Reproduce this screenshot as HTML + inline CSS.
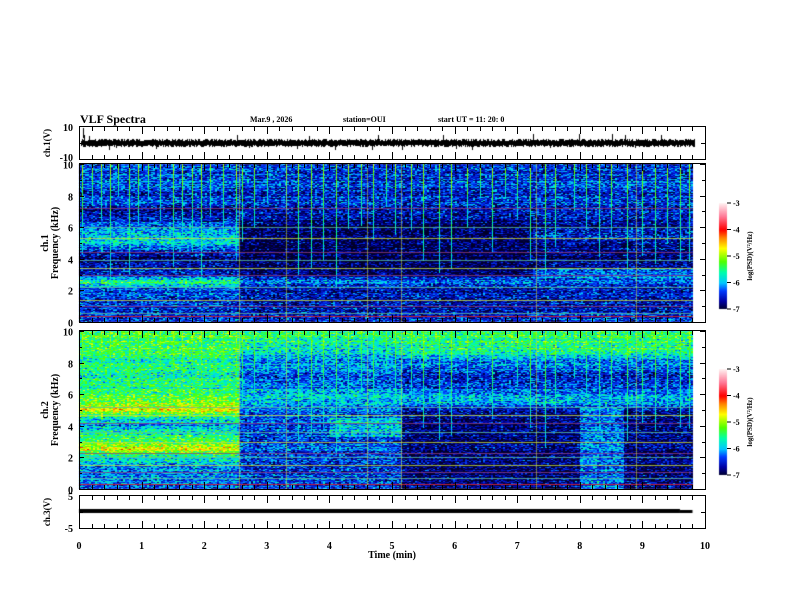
<!DOCTYPE html>
<html><head><meta charset="utf-8"><style>
html,body{margin:0;padding:0;background:#fff;width:792px;height:612px;overflow:hidden}
#wrap{position:relative;width:792px;height:612px}
canvas{position:absolute;left:0;top:0}
svg{position:absolute;left:0;top:0}
text{font-family:"Liberation Serif",serif;font-weight:bold;fill:#000}
</style></head><body>
<div id="wrap">
<canvas id="cv" width="792" height="612"></canvas>
<svg id="sv" width="792" height="612"></svg>
</div>
<script>
// ---- data ----
const freqs = [0,0.5,1,1.5,2,2.5,3,3.5,4,4.5,5,5.5,6,6.5,7,7.5,8,8.5,9,9.5,10];
const ch1SegA = [-6.4,-6.5,-6.4,-6.3,-6.4,-5.5,-6.5,-6.6,-6.8,-6.5,-5.8,-5.9,-6.2,-6.5,-6.8,-6.4,-6.5,-6.4,-6.3,-6.3,-6.3];
const ch1SegB = [-6.5,-6.6,-6.6,-6.5,-6.7,-6.2,-6.8,-6.9,-6.9,-7.0,-6.9,-6.8,-7.0,-6.7,-6.6,-6.5,-6.5,-6.5,-6.4,-6.4,-6.4];
const ch1SegC = [-6.4,-6.5,-6.6,-6.5,-6.6,-6.3,-6.5,-6.7,-6.8,-6.8,-6.7,-6.4,-6.7,-6.6,-6.5,-6.5,-6.5,-6.4,-6.4,-6.4,-6.4];
const ch2SegA = [-6.3,-6.2,-6.1,-6.0,-5.7,-4.8,-5.3,-5.6,-6.0,-5.7,-4.7,-5.1,-5.4,-5.5,-5.6,-5.6,-5.6,-5.5,-5.4,-5.3,-5.3];
const ch2SegB = [-6.4,-6.4,-6.4,-6.4,-6.4,-6.3,-6.4,-6.4,-6.3,-6.3,-6.2,-5.9,-5.9,-6.2,-6.3,-6.2,-6.1,-6.0,-5.7,-5.5,-5.4];
const ch2SegC = [-6.8,-6.8,-6.8,-6.8,-6.8,-6.8,-6.8,-6.8,-6.8,-6.8,-6.7,-5.9,-6.1,-6.4,-6.5,-6.4,-6.2,-5.8,-5.5,-5.4,-5.4];
const ch1Breaks = [2.55, 7.25];
const ch2Breaks = [2.55, 5.15];
const spikeTimes = [0.05,0.2,0.35,0.5,0.62,0.8,0.95,1.1,1.3,1.5,1.65,1.8,1.95,2.1,2.3,2.5,2.6,2.8,3.0,3.3,3.5,3.7,3.9,4.1,4.3,4.5,4.7,4.9,5.05,5.3,5.5,5.75,5.95,6.2,6.4,6.6,6.8,7.0,7.2,7.45,7.6,7.9,8.1,8.3,8.5,8.75,9.0,9.2,9.4,9.6,9.75];
const lineFreqs1 = [0.4,0.6,1.0,1.4,2.2,3.0,3.4,3.9,4.4,5.3,6.0,7.2];
const lineFreqs2 = [0.3,0.7,1.1,1.5,2.0,2.3,3.0,3.6,4.2,4.7,5.2];
const vLineTimes = [2.55,3.3,4.6,5.15,7.3,8.9];
const endTime = 9.8;
const xTicks = [0,1,2,3,4,5,6,7,8,9,10];
const cbTicks = [-3,-4,-5,-6,-7];

// ---- layout ----
const X0=79, X1=705;
const xs = t => X0 + (X1-X0)*t/10;
const P = {
  w1:{top:127,bot:159},
  s1:{top:164,bot:322},
  s2:{top:331,bot:489},
  w3:{top:496,bot:528}
};
const cv=document.getElementById('cv'), ctx=cv.getContext('2d');
const stops=[[-7,0,0,40],[-6.7,0,0,160],[-6.3,0,60,255],[-6.0,0,200,255],[-5.6,0,255,170],[-5.2,80,255,0],[-4.7,255,255,0],[-4.3,255,130,0],[-4.0,255,0,0],[-3.5,255,120,150],[-3,255,240,240]];
function cmap(v){
  if(v<=stops[0][0]) return stops[0].slice(1);
  for(let i=1;i<stops.length;i++){ if(v<=stops[i][0]){const a=stops[i-1],b=stops[i],f=(v-a[0])/(b[0]-a[0]);return [a[1]+(b[1]-a[1])*f,a[2]+(b[2]-a[2])*f,a[3]+(b[3]-a[3])*f];}}
  return stops[stops.length-1].slice(1);
}
function hash(a,b){let h=(a*374761393+b*668265263)|0;h=(h^(h>>>13))*1274126177|0;h=h^(h>>>16);return ((h>>>0)%10000)/10000;}
function prof(arr,f){const i=Math.min(19,Math.floor(f/0.5));const fr=(f-freqs[i])/0.5;return arr[i]*(1-fr)+arr[i+1]*fr;}
function drawSpec(pan,segs,breaks,lines,ch){
  const H=pan.bot-pan.top, xe=xs(endTime);
  const img=ctx.createImageData(Math.ceil(xe-X0),H);
  const W=img.width;
  const spikeCols=spikeTimes.map(t=>Math.round(xs(t)-X0));
  for(let px=0;px<W;px++){
    const t=(px)/(X1-X0)*10;
    const seg=t<breaks[0]?segs[0]:(t<breaks[1]?segs[1]:segs[2]);
    const si=spikeCols.indexOf(px);
    const spk=si>=0;
    const reach=spk?(2+hash(si,77)*6):10; // spike extends down to this freq
    const col=Math.floor(px/2);
    for(let py=0;py<H;py++){
      const f=10*(1-(py+0.5)/H);
      let v=prof(seg,f);
      const n=(hash(col,py)+hash(col+7,py*3)-1)*0.75;
      v+=n+(hash(0,py)-0.5)*0.4;
      if(ch===2&&t>4.0&&t<5.15&&f>3.3&&f<4.5) v+=0.45;
      if(ch===2&&t>8.0&&t<8.7&&f<5.2) v+=0.6;
      if(ch===1&&t>7.25&&f>2.8&&f<3.4) v+=0.3;
      if(spk&&f>reach){const s=-5.9+(f-reach)/(10-reach)*0.9+(hash(px,py)-0.5)*0.5; v=Math.max(v,s);}
      const c=cmap(v); const k=(py*W+px)*4;
      img.data[k]=c[0];img.data[k+1]=c[1];img.data[k+2]=c[2];img.data[k+3]=255;
    }
  }
  ctx.putImageData(img,X0,pan.top);
  lines.forEach((lf,i)=>{
    const y=pan.bot-lf/10*H;
    ctx.fillStyle=lf<0.5?'#c0203a':(i%3===0?'rgba(200,220,60,0.8)':(i%3===1?'rgba(90,190,160,0.8)':'rgba(140,60,130,0.8)'));
    ctx.fillRect(X0, Math.round(y), xe-X0, 1);
  });
  ctx.fillStyle='rgba(200,220,60,0.55)';
  vLineTimes.forEach(t=>ctx.fillRect(Math.round(xs(t)),pan.top,1,H));
}
drawSpec(P.s1,[ch1SegA,ch1SegB,ch1SegC],ch1Breaks,lineFreqs1,1);
drawSpec(P.s2,[ch2SegA,ch2SegB,ch2SegC],ch2Breaks,lineFreqs2,2);
// ch1 waveform band
(function(){
  const cy=143;ctx.fillStyle='#000';
  for(let x=X0+2;x<xs(endTime)+2;x++){
    const a=2+hash(x,5)*2.2, b=2+hash(x,9)*2.2;
    let up=a, dn=b; if(hash(x,17)>0.985){up+=5;} if(hash(x,23)>0.99){dn+=4;}
    ctx.fillRect(x,Math.round(cy-up),1,Math.round(up+dn));
  }
  ctx.fillRect(Math.round(xs(0.06)),128,1,10);
})();
// ch3 line
(function(){
  const y=v=>P.w3.top+(5-v)/10*(P.w3.bot-P.w3.top);
  ctx.fillStyle='#000';
  ctx.fillRect(X0,Math.round(y(0.4))-2,xs(9.6)-X0,4);
  ctx.fillRect(xs(9.6),Math.round(y(0.4))-1,xs(9.8)-xs(9.6),3);
})();
// colorbars
function colorbar(top,bot){
  const x=719,w=8;
  for(let y=top;y<bot;y++){const v=-3-4*(y-top)/(bot-top);const c=cmap(v);ctx.fillStyle=`rgb(${c[0]|0},${c[1]|0},${c[2]|0})`;ctx.fillRect(x,y,w,1);}
}
colorbar(203,309);colorbar(369,475);

// ---- SVG axes ----
const NS='http://www.w3.org/2000/svg', sv=document.getElementById('sv');
function el(tag,attrs,txt){const e=document.createElementNS(NS,tag);for(const k in attrs)e.setAttribute(k,attrs[k]);if(txt!==undefined)e.textContent=txt;sv.appendChild(e);return e;}
function line(x1,y1,x2,y2,name){const e=el('line',{x1,y1,x2,y2,stroke:'#000','stroke-width':1});

return e;}
function txt(x,y,s,size,anchor,name,extra){const e=el('text',Object.assign({x,y,'font-size':size,'text-anchor':anchor||'start'},extra||{}),s);

return e;}
Object.keys(P).forEach(k=>{const p=P[k];const r=el('rect',{x:X0+0.5,y:p.top-0.5,width:X1-X0,height:p.bot-p.top+1,fill:'none',stroke:'#000','stroke-width':1});


  for(let i=0;i<=50;i++){const t=i*0.2,x=Math.round(xs(t))+0.5,L=(i%5===0)?7:4;
    line(x,p.top,x,p.top+L,'x-tick');line(x,p.bot,x,p.bot-L,'x-tick');}
});
[P.s1,P.s2].forEach((p,pi)=>{
  for(let f=0;f<=10;f+=1){const y=Math.round(p.bot-(p.bot-p.top)*f/10)+0.5,L=f%2===0?5:3;
    line(X0,y,X0+L,y,'y-tick');line(X1,y,X1-L,y,'y-tick');
    if(f%2===0) txt(X0-6,y+4,String(f),10,'end','y-tick-label');}
});
txt(X0-6,131,'10',10,'end','ch1-y-max');txt(X0-6,161,'-10',10,'end','ch1-y-min');
txt(X0-6,500,'5',10,'end','ch3-y-max');txt(X0-6,532,'-5',10,'end','ch3-y-min');
[[P.w1],[P.w3]].forEach(([p])=>{const m=Math.round((p.top+p.bot)/2)+0.5;line(X0,m,X0+4,m,'y-tick');line(X1,m,X1-4,m,'y-tick');});
xTicks.forEach(t=>txt(xs(t),549,String(t),10,'middle','x-tick-label'));
txt(392,558,'Time  (min)',10,'middle','x-axis-title');
txt(0,0,'ch.1(V)',9,'middle','ch1-y-title',{transform:'translate(50,143) rotate(-90)'});
txt(0,0,'ch.1',10,'middle','spec1-y-title-ch',{transform:'translate(48,243) rotate(-90)'});
txt(0,0,'Frequency  (kHz)',10,'middle','spec1-y-title',{transform:'translate(58,243) rotate(-90)'});
txt(0,0,'ch.2',10,'middle','spec2-y-title-ch',{transform:'translate(48,410) rotate(-90)'});
txt(0,0,'Frequency  (kHz)',10,'middle','spec2-y-title',{transform:'translate(58,410) rotate(-90)'});
txt(0,0,'ch.3(V)',9,'middle','ch3-y-title',{transform:'translate(50,512) rotate(-90)'});
txt(80,123,'VLF Spectra',12,'start','chart-title');
txt(250,122,'Mar.9  , 2026',8,'start','date-label');
txt(343,122,'station=OUI',8,'start','station-label');
txt(438,122,'start  UT  =    11: 20: 0',8,'start','start-time-label');
[[203,309],[369,475]].forEach(([t,b],ci)=>{
  const r=el('rect',{x:719,y:t,width:8,height:b-t,fill:'none',stroke:'none'});
  
  
  cbTicks.forEach(v=>{const y=t+(-3-v)/4*(b-t);line(727,y,731,y,'colorbar-tick');txt(733,y+3,String(v),8,'start','colorbar-tick-label');});
  txt(0,0,'log(PSD)(V²/Hz)',7,'middle','colorbar-title',{transform:`translate(752,${(t+b)/2}) rotate(-90)`});
});
</script>
</body></html>
